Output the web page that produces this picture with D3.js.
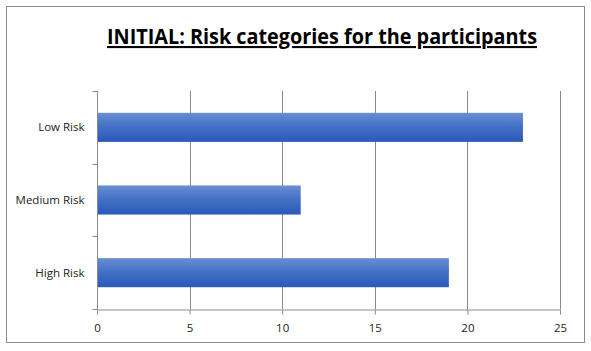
<!DOCTYPE html>
<html>
<head>
<meta charset="utf-8">
<script src="https://cdn.jsdelivr.net/npm/d3@7"></script>
<style>
    body { margin: 0; background: #fff; }
    svg { display: block; }
</style>
</head>
<body>
<svg id="chart"></svg>
<script>
const categories = ['Low Risk', 'Medium Risk', 'High Risk'];
const values = [23, 11, 19];
const xTicks = [0, 5, 10, 15, 20, 25];
const title = 'INITIAL: Risk categories for the participants';

const width = 591;
const height = 351;
const margin = { top: 91, right: 31, bottom: 42, left: 97 };
const innerW = width - margin.left - margin.right;
const innerH = height - margin.top - margin.bottom;

const svg = d3.select('#chart').attr('width', width).attr('height', height);

// chart area border
svg.append('rect')
    .attr('x', 6.5).attr('y', 6.5)
    .attr('width', 578).attr('height', 336)
    .attr('fill', '#fff')
    .attr('stroke', '#8c8c8c');

const defs = svg.append('defs');
const grad = defs.append('linearGradient')
    .attr('id', 'barGrad')
    .attr('x1', 0).attr('y1', 0).attr('x2', 0).attr('y2', 1);
grad.append('stop').attr('offset', '0%').attr('stop-color', '#6a8ed2');
grad.append('stop').attr('offset', '45%').attr('stop-color', '#4572c6');
grad.append('stop').attr('offset', '100%').attr('stop-color', '#2a58ba');

const xScale = d3.scaleLinear().domain([0, 25]).range([0, innerW]);
const yScale = d3.scaleBand().domain(categories).range([0, innerH]).paddingInner(0.6).paddingOuter(0.3);

const g = svg.append('g').attr('transform', `translate(${margin.left}, ${margin.top})`);

// vertical gridlines
g.append('g')
    .attr('class', 'grid')
    .selectAll('line')
    .data(xTicks.slice(1))
    .join('line')
    .attr('x1', d => Math.round(xScale(d)) + 0.5)
    .attr('x2', d => Math.round(xScale(d)) + 0.5)
    .attr('y1', 0)
    .attr('y2', innerH)
    .attr('stroke', '#8a8a8a');

// bars
g.append('g')
    .selectAll('rect')
    .data(categories)
    .join('rect')
    .attr('x', 0)
    .attr('y', d => yScale(d))
    .attr('width', (d, i) => xScale(values[i]))
    .attr('height', yScale.bandwidth())
    .attr('fill', 'url(#barGrad)');

// x axis
const xAxis = g.append('g')
    .attr('transform', `translate(0, ${innerH + 0.5})`)
    .call(d3.axisBottom(xScale).tickValues(xTicks).tickSize(5).tickSizeOuter(0));

// y axis with ticks on category boundaries
const yAxis = g.append('g').attr('transform', 'translate(0.5, 0)');
yAxis.append('line')
    .attr('y1', 0).attr('y2', innerH)
    .attr('stroke', '#8a8a8a');
const step = innerH / categories.length;
yAxis.selectAll('.ytick')
    .data(d3.range(categories.length + 1))
    .join('line')
    .attr('class', 'ytick')
    .attr('x1', -5).attr('x2', 0)
    .attr('y1', d => Math.round(d * step) + 0.5)
    .attr('y2', d => Math.round(d * step) + 0.5)
    .attr('stroke', '#8a8a8a');
yAxis.selectAll('text')
    .data(categories)
    .join('text')
    .attr('x', -13)
    .attr('y', d => yScale(d) + yScale.bandwidth() / 2)
    .attr('dy', '0.35em')
    .attr('text-anchor', 'end')
    .attr('font-family', 'Open Sans, sans-serif')
    .attr('font-size', 11.5)
    .attr('fill', '#222')
    .text(d => d);

xAxis.select('.domain').attr('stroke', '#8a8a8a');
xAxis.selectAll('.tick line').attr('stroke', '#8a8a8a');
xAxis.selectAll('.tick text')
    .attr('dy', '1.3em')
    .attr('font-family', 'Open Sans, sans-serif')
    .attr('font-size', 11.5)
    .attr('fill', '#222');

// title
svg.append('text')
    .attr('x', 322)
    .attr('y', 44)
    .attr('text-anchor', 'middle')
    .attr('font-family', 'Open Sans, sans-serif')
    .attr('font-weight', 'bold')
    .attr('font-size', 21)
    .attr('text-decoration', 'underline')
    .attr('textLength', 430)
    .attr('lengthAdjust', 'spacingAndGlyphs')
    .attr('fill', '#000')
    .text(title);
</script>
</body>
</html>
